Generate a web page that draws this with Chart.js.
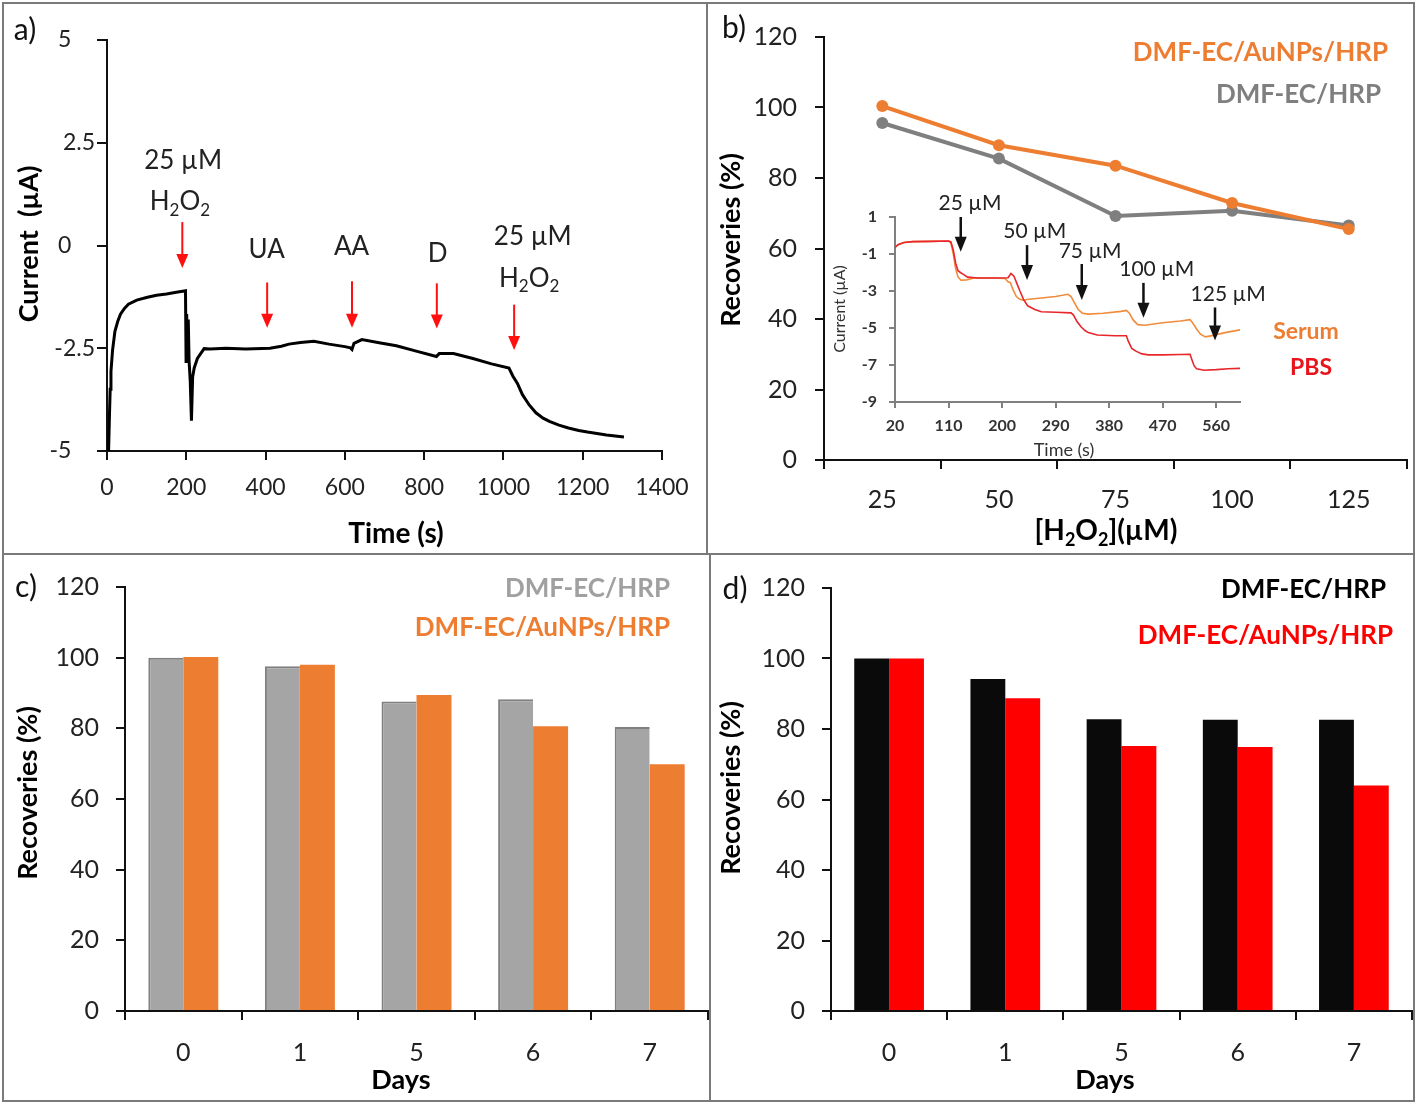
<!DOCTYPE html>
<html><head><meta charset="utf-8">
<script src="https://cdn.jsdelivr.net/npm/chart.js@4.4.0/dist/chart.umd.min.js"></script>
<style>
html,body{margin:0;padding:0;background:#fff;}
#page{position:relative;width:1418px;height:1104px;overflow:hidden;background:#fff;}
.ln{position:absolute;background:#7a7a7a;}
canvas{display:block;}
</style></head><body><div id="page">
<div class="ln" style="left:2px;top:2px;width:1413px;height:2px"></div>
<div class="ln" style="left:2px;top:1100px;width:1413px;height:2px"></div>
<div class="ln" style="left:2px;top:2px;width:2px;height:1100px"></div>
<div class="ln" style="left:1413px;top:2px;width:2px;height:1100px"></div>
<div class="ln" style="left:2px;top:553px;width:1413px;height:2px"></div>
<div class="ln" style="left:706px;top:2px;width:2px;height:552px"></div>
<div class="ln" style="left:709px;top:554px;width:2px;height:548px"></div>
</div>
<script>
// ---------------- DATA ----------------
// a) amperometric interference test
const aTime = [4, 6, 8, 10, 14, 20, 27, 34, 44, 54,
  75, 102, 125, 150, 175, 198, 199.5, 201, 203, 205,
  207, 210, 213, 216, 220, 228, 245, 260, 300, 350,
  411, 440, 459, 488, 522, 560, 600, 614, 618, 623,
  643, 690, 730, 780, 831, 838, 874, 923, 970, 1014,
  1024, 1035, 1048, 1065, 1082, 1100, 1116, 1140, 1164, 1190,
  1212, 1260, 1304];
const aCurrent = [-5.0, -4.2, -3.5, -3.06, -2.55, -2.09, -1.85, -1.67, -1.53, -1.43,
  -1.33, -1.26, -1.21, -1.18, -1.14, -1.10, -2.82, -1.67, -2.85, -1.80,
  -2.80, -3.30, -4.26, -3.20, -2.98, -2.75, -2.51, -2.52, -2.50, -2.52,
  -2.50, -2.45, -2.40, -2.36, -2.33, -2.40, -2.46, -2.49, -2.53, -2.38,
  -2.29, -2.37, -2.44, -2.57, -2.70, -2.63, -2.63, -2.75, -2.88, -2.98,
  -3.18, -3.35, -3.63, -3.88, -4.07, -4.20, -4.28, -4.37, -4.44, -4.50,
  -4.54, -4.61, -4.66];
const aXTicks = [0, 200, 400, 600, 800, 1000, 1200, 1400];
const aYTicks = [-5, -2.5, 0, 2.5, 5];
const aMarks = [
  {x: 190, top: 0.57, tip: -0.55, labels: [['25 µM', 192, 2.1], ['H_2O_2', 184, 1.08]]},
  {x: 404, top: -0.9, tip: -2.0, labels: [['UA', 403, -0.07]]},
  {x: 618, top: -0.87, tip: -2.0, labels: [['AA', 617, 0.0]]},
  {x: 832, top: -0.92, tip: -2.02, labels: [['D', 834, -0.17]]},
  {x: 1027, top: -1.44, tip: -2.54, labels: [['25 µM', 1074, 0.25], ['H_2O_2', 1065, -0.77]]}
];

// b) recoveries vs H2O2 concentration
const bConc = ['25', '50', '75', '100', '125'];
const bAuNP = [100.4, 89.3, 83.5, 72.9, 65.5];
const bHRP = [95.6, 85.5, 69.2, 70.7, 66.5];
const bYTicks = [0, 20, 40, 60, 80, 100, 120];

// b) inset: current vs time in PBS and serum
const pbsTime = [20, 25, 35, 50, 80, 110, 114, 118, 122, 126,
  130, 135, 142, 160, 190, 210, 215, 220, 225, 230,
  236, 243, 255, 266, 290, 316, 320, 326, 333, 340,
  345, 360, 390, 409, 412, 418, 425, 435, 446, 470,
  500, 516, 519, 523, 527, 540, 560, 580, 600];
const pbsCurrent = [-0.65, -0.5, -0.38, -0.33, -0.32, -0.3, -0.35, -0.8, -1.5, -1.9,
  -2.0, -2.1, -2.25, -2.3, -2.3, -2.28, -2.05, -2.2, -2.6, -3.0,
  -3.45, -3.8, -4.0, -4.12, -4.15, -4.18, -4.3, -4.65, -4.95, -5.15,
  -5.25, -5.38, -5.42, -5.42, -5.7, -6.1, -6.25, -6.4, -6.45, -6.45,
  -6.43, -6.42, -6.7, -7.05, -7.2, -7.28, -7.25, -7.2, -7.18];
const serumTime = [20, 25, 35, 50, 80, 110, 114, 118, 122, 126,
  131, 140, 153, 180, 205, 210, 214, 218, 224, 230,
  235, 245, 266, 290, 311, 316, 322, 328, 335, 345,
  370, 400, 409, 414, 420, 428, 440, 470, 500, 516,
  520, 527, 534, 542, 555, 575, 600];
const serumCurrent = [-0.65, -0.5, -0.38, -0.33, -0.32, -0.3, -0.4, -1.0, -1.8, -2.25,
  -2.42, -2.4, -2.3, -2.3, -2.32, -2.5, -2.55, -2.9, -3.3, -3.45,
  -3.5, -3.45, -3.38, -3.3, -3.18, -3.3, -3.65, -4.0, -4.2, -4.25,
  -4.2, -4.1, -4.05, -4.2, -4.55, -4.82, -4.85, -4.72, -4.62, -4.55,
  -4.7, -5.05, -5.35, -5.48, -5.4, -5.25, -5.1];
const insetXTicks = [20, 110, 200, 290, 380, 470, 560];
const insetYTicks = [-9, -7, -5, -3, -1, 1];
const insetMarks = [
  {x: 130.5, top: 1.0, tip: -0.88, label: '25 µM', lx: 146, ly: 1.8},
  {x: 242, top: -0.52, tip: -2.40, label: '50 µM', lx: 255, ly: 0.28},
  {x: 334, top: -1.54, tip: -3.48, label: '75 µM', lx: 348, ly: -0.79},
  {x: 437.7, top: -2.56, tip: -4.44, label: '100 µM', lx: 460, ly: -1.76},
  {x: 558, top: -3.89, tip: -5.68, label: '125 µM', lx: 580, ly: -3.14}
];

// c) and d) stability over days
const days = ['0', '1', '5', '6', '7'];
const cHRP = [100, 97.6, 87.6, 88.2, 80.4];
const cAuNP = [100.2, 98.0, 89.4, 80.6, 69.8];
const dHRP = [100, 94.2, 82.8, 82.6, 82.6];
const dAuNP = [100, 88.7, 75.2, 74.9, 64.0];
const recTicks = [0, 20, 40, 60, 80, 100, 120];

// ---------------- DRAWING HELPERS ----------------
const FONT = 'Lato, "Open Sans", sans-serif';
Chart.defaults.font.family = FONT;
Chart.defaults.color = '#222';
const page = document.getElementById('page');

function drawRich(ctx, text, x, y, size, weight, color, align, rot) {
  ctx.save();
  ctx.translate(x, y);
  if (rot) ctx.rotate(-Math.PI / 2);
  const segs = text.split(/(_\d)/).filter(s => s.length).map(s => s[0] === '_' ? {t: s.slice(1), sub: true} : {t: s, sub: false});
  const fN = `${weight} ${size}px ${FONT}`, fS = `${weight} ${Math.round(size * 0.65)}px ${FONT}`;
  let w = 0;
  segs.forEach(p => { ctx.font = p.sub ? fS : fN; p.w = ctx.measureText(p.t).width; w += p.w; });
  let cx = align === 'center' ? -w / 2 : (align === 'right' ? -w : 0);
  ctx.fillStyle = color; ctx.textAlign = 'left'; ctx.textBaseline = 'alphabetic';
  const base = size * 0.36;
  segs.forEach(p => { ctx.font = p.sub ? fS : fN; ctx.fillText(p.t, cx, base + (p.sub ? size * 0.22 : 0)); cx += p.w; });
  ctx.restore();
}
function drawArrow(ctx, x, y1, y2, color, lw, hw, hl) {
  ctx.save();
  ctx.strokeStyle = color; ctx.fillStyle = color; ctx.lineWidth = lw;
  ctx.beginPath(); ctx.moveTo(x, y1); ctx.lineTo(x, y2 - hl + 1); ctx.stroke();
  ctx.beginPath(); ctx.moveTo(x - hw / 2, y2 - hl); ctx.lineTo(x + hw / 2, y2 - hl); ctx.lineTo(x, y2); ctx.closePath(); ctx.fill();
  ctx.restore();
}
function makeAnnot(items, rect) {
  return {
    id: 'annot',
    afterDatasetsDraw(chart) {
      const ctx = chart.ctx, X = chart.scales.x, Y = chart.scales.y;
      items.forEach(it => {
        const x = it.xv !== undefined ? X.getPixelForValue(it.xv) : it.x - rect.x;
        if (it.kind === 'arrow') {
          drawArrow(ctx, x, Y.getPixelForValue(it.y1), Y.getPixelForValue(it.y2), it.color, it.lw, it.hw, it.hl);
        } else {
          const y = it.yv !== undefined ? Y.getPixelForValue(it.yv) : it.y - rect.y;
          drawRich(ctx, it.text, x, y, it.size, it.weight || 'normal', it.color || '#222', it.align || 'center', it.rot);
        }
      });
    }
  };
}
function axisStyle(color, lw, tl, extraGrid) {
  return {
    grid: Object.assign({display: true, drawOnChartArea: false, drawTicks: true, tickLength: tl, color: color, tickColor: color, lineWidth: lw, tickWidth: lw}, extraGrid || {}),
    border: {display: true, color: color, width: lw}
  };
}
function fixedTicks(list) { return s => { s.ticks = list.map(v => ({value: v})); }; }
function makeChart(rect, area, cfg, items) {
  const div = document.createElement('div');
  div.style.cssText = `position:absolute;left:${rect.x}px;top:${rect.y}px;width:${rect.w}px;height:${rect.h}px;`;
  const cv = document.createElement('canvas');
  cv.width = rect.w; cv.height = rect.h;
  cv.style.width = rect.w + 'px'; cv.style.height = rect.h + 'px';
  div.appendChild(cv); page.appendChild(div);
  const o = cfg.options;
  o.responsive = false; o.animation = false; o.devicePixelRatio = 1; o.maintainAspectRatio = false;
  o.layout = {padding: {left: 0, top: area.t - rect.y, right: rect.x + rect.w - area.r, bottom: 0}};
  o.plugins = {legend: {display: false}, tooltip: {enabled: false}, title: {display: false}};
  o.scales.x.afterFit = s => { s.height = rect.y + rect.h - area.b; };
  o.scales.y.afterFit = s => { s.width = area.l - rect.x; };
  cfg.plugins = [makeAnnot(items, rect)];
  return new Chart(cv, cfg);
}
const toXY = (xs, ys) => xs.map((x, i) => ({x: x, y: ys[i]}));

// ---------------- PANEL A ----------------
{
  const rect = {x: 4, y: 4, w: 702, h: 549};
  const area = {l: 107, t: 40, r: 662, b: 451};
  const items = [
    {x: 25, y: 29, text: 'a)', size: 30, color: '#111'},
    {x: 396, y: 533, text: 'Time (s)', size: 28, weight: 'bold', color: '#000'},
    {x: 28, y: 244, text: 'Current  (µA)', size: 27, weight: 'bold', color: '#000', rot: true}
  ];
  aMarks.forEach(m => {
    items.push({kind: 'arrow', xv: m.x, y1: m.top, y2: m.tip, color: '#ff1010', lw: 2, hw: 12, hl: 14});
    m.labels.forEach(l => items.push({xv: l[1], yv: l[2], text: l[0], size: 26, color: '#222'}));
  });
  makeChart(rect, area, {
    type: 'line',
    data: {datasets: [{data: toXY(aTime, aCurrent), borderColor: '#000', borderWidth: 3, pointRadius: 0, tension: 0, fill: false}]},
    options: {
      scales: {
        x: Object.assign({type: 'linear', min: 0, max: 1400, afterBuildTicks: fixedTicks(aXTicks),
          ticks: {font: {size: 23}, color: '#222', padding: 14, maxRotation: 0, autoSkip: false, callback: v => String(v)}}, axisStyle('#111', 2, 9)),
        y: Object.assign({type: 'linear', min: -5, max: 5, afterBuildTicks: fixedTicks(aYTicks),
          ticks: {font: {size: 23}, color: '#222', padding: 2, autoSkip: false,
            callback: v => Number.isInteger(v) ? String(v) + '    ' : String(v)}}, axisStyle('#111', 2, 10))
      }
    }
  }, items);
}

// ---------------- PANEL B ----------------
{
  const rect = {x: 708, y: 4, w: 705, h: 549};
  const area = {l: 824, t: 36, r: 1410, b: 460};
  const items = [
    {x: 734, y: 27, text: 'b)', size: 30, color: '#111'},
    {x: 1388, y: 52, text: 'DMF-EC/AuNPs/HRP', size: 26, weight: 'bold', color: '#ed7d31', align: 'right'},
    {x: 1381, y: 94, text: 'DMF-EC/HRP', size: 26, weight: 'bold', color: '#7f7f7f', align: 'right'},
    {x: 730, y: 240, text: 'Recoveries (%)', size: 27, weight: 'bold', color: '#000', rot: true},
    {x: 1106, y: 530, text: '[H_2O_2](µM)', size: 28, weight: 'bold', color: '#000'},
    {x: 1306, y: 331, text: 'Serum', size: 23, weight: 'bold', color: '#ed7d31'},
    {x: 1311, y: 367, text: 'PBS', size: 23, weight: 'bold', color: '#e8141c'}
  ];
  makeChart(rect, area, {
    type: 'line',
    data: {labels: bConc, datasets: [
      {data: bAuNP, borderColor: '#ed7d31', backgroundColor: '#ed7d31', borderWidth: 4, pointRadius: 6, pointBorderWidth: 0, tension: 0},
      {data: bHRP, borderColor: '#7f7f7f', backgroundColor: '#7f7f7f', borderWidth: 4, pointRadius: 6, pointBorderWidth: 0, tension: 0}
    ]},
    options: {
      scales: {
        x: Object.assign({type: 'category', offset: true,
          ticks: {font: {size: 25}, color: '#222', padding: 16, maxRotation: 0, autoSkip: false}}, axisStyle('#111', 2, 9, {offset: true})),
        y: Object.assign({type: 'linear', min: 0, max: 120, afterBuildTicks: fixedTicks(bYTicks),
          ticks: {font: {size: 25}, color: '#222', padding: 18, autoSkip: false}}, axisStyle('#111', 2, 9))
      }
    }
  }, items);
}

// ---------------- INSET ----------------
{
  const rect = {x: 830, y: 185, w: 460, h: 275};
  const area = {l: 895, t: 217, r: 1240, b: 402};
  const items = [
    {x: 839, y: 309, text: 'Current (µA)', size: 16, color: '#333', rot: true},
    {x: 1064, y: 450, text: 'Time (s)', size: 18, color: '#333'}
  ];
  insetMarks.forEach(m => {
    items.push({kind: 'arrow', xv: m.x, y1: m.top, y2: m.tip, color: '#111', lw: 2.5, hw: 12, hl: 15});
    items.push({xv: m.lx, yv: m.ly, text: m.label, size: 21, color: '#222'});
  });
  makeChart(rect, area, {
    type: 'line',
    data: {datasets: [
      {data: toXY(pbsTime, pbsCurrent), borderColor: '#e8262b', borderWidth: 1.6, pointRadius: 0, tension: 0},
      {data: toXY(serumTime, serumCurrent), borderColor: '#f08c3c', borderWidth: 1.6, pointRadius: 0, tension: 0}
    ]},
    options: {
      scales: {
        x: Object.assign({type: 'linear', min: 20, max: 600, afterBuildTicks: fixedTicks(insetXTicks),
          ticks: {font: {size: 16, weight: 'bold'}, color: '#333', padding: 8, maxRotation: 0, autoSkip: false}}, axisStyle('#808080', 2, 6)),
        y: Object.assign({type: 'linear', min: -9, max: 1, afterBuildTicks: fixedTicks(insetYTicks),
          ticks: {font: {size: 16, weight: 'bold'}, color: '#333', padding: 12, autoSkip: false}}, axisStyle('#808080', 2, 6))
      }
    }
  }, items);
}

// ---------------- PANEL C & D ----------------
function barPanel(rect, area, letter, s1, s2, c1, c2, b1, legendColors, legendPos, titlePos) {
  const items = [
    {x: letter[1], y: letter[2], text: letter[0], size: 30, color: '#111'},
    {x: legendPos[0][0], y: legendPos[0][1], text: 'DMF-EC/HRP', size: 26, weight: 'bold', color: legendColors[0], align: 'right'},
    {x: legendPos[1][0], y: legendPos[1][1], text: 'DMF-EC/AuNPs/HRP', size: 26, weight: 'bold', color: legendColors[1], align: 'right'},
    {x: titlePos[0][0], y: titlePos[0][1], text: 'Recoveries (%)', size: 27, weight: 'bold', color: '#000', rot: true},
    {x: titlePos[1][0], y: titlePos[1][1], text: 'Days', size: 27, weight: 'bold', color: '#000'}
  ];
  makeChart(rect, area, {
    type: 'bar',
    data: {labels: days, datasets: [
      {data: s1, backgroundColor: c1, borderColor: b1, borderWidth: b1 ? {top: 2, left: 2, right: 0, bottom: 0} : 0, categoryPercentage: 0.6, barPercentage: 1},
      {data: s2, backgroundColor: c2, borderWidth: 0, categoryPercentage: 0.6, barPercentage: 1}
    ]},
    options: {
      scales: {
        x: Object.assign({type: 'category', offset: true,
          ticks: {font: {size: 25}, color: '#222', padding: 18, maxRotation: 0, autoSkip: false}}, axisStyle('#111', 2, 9, {offset: true})),
        y: Object.assign({type: 'linear', min: 0, max: 120, afterBuildTicks: fixedTicks(recTicks),
          ticks: {font: {size: 25}, color: '#222', padding: 17, autoSkip: false}}, axisStyle('#111', 2, 9))
      }
    }
  }, items);
}
barPanel({x: 4, y: 555, w: 705, h: 545}, {l: 125, t: 587, r: 708, b: 1011}, ['c)', 26, 586],
  cHRP, cAuNP, '#a5a5a5', '#ed7d31', '#7f7f7f', ['#a0a0a0', '#ed7d31'], [[670, 588], [670, 627]], [[27, 793], [401, 1079]]);
barPanel({x: 711, y: 556, w: 702, h: 544}, {l: 831, t: 587, r: 1412, b: 1011}, ['d)', 735, 588],
  dHRP, dAuNP, '#0a0a0a', '#ff0000', null, ['#000000', '#ff0000'], [[1386, 589], [1393, 635]], [[730, 788], [1105, 1079]]);
</script>
</body></html>
